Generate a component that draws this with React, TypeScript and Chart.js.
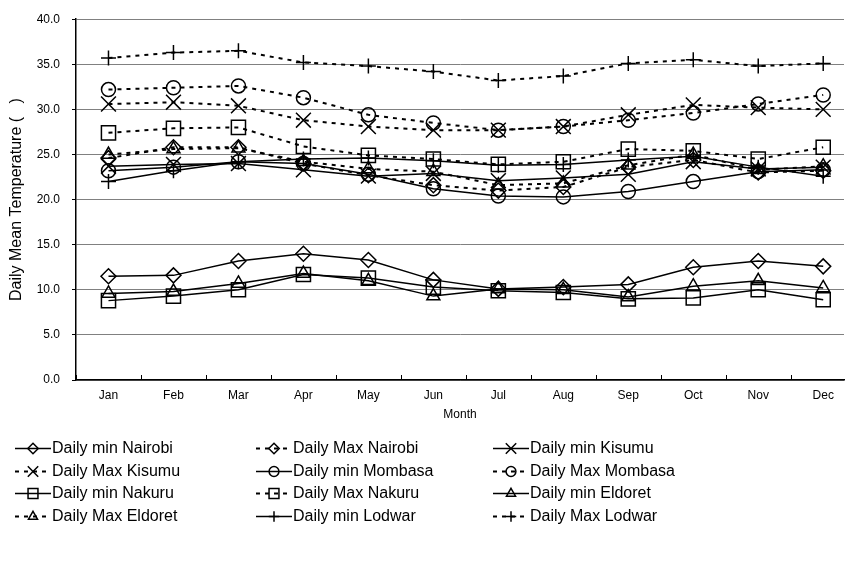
import React, { useEffect, useRef } from "react";
import { Chart, registerables } from "chart.js";
import { drawPoint } from "chart.js/helpers";

Chart.register(...registerables);

const months = ["Jan", "Feb", "Mar", "Apr", "May", "Jun", "Jul", "Aug", "Sep", "Oct", "Nov", "Dec"];
const yTickValues = [0, 5, 10, 15, 20, 25, 30, 35, 40];

const minNairobi = [11.5, 11.6, 13.2, 14.0, 13.3, 11.1, 10.1, 10.3, 10.6, 12.5, 13.2, 12.6];
const maxNairobi = [24.6, 25.8, 25.8, 24.0, 22.7, 21.6, 21.0, 21.4, 23.6, 24.4, 23.0, 23.2];
const minKisumu = [23.7, 23.9, 24.0, 23.3, 22.6, 22.9, 22.1, 22.4, 22.8, 24.2, 23.4, 23.6];
const maxKisumu = [30.6, 30.8, 30.4, 28.8, 28.1, 27.7, 27.7, 28.1, 29.4, 30.5, 30.2, 30.0];
const minMombasa = [23.2, 23.6, 24.2, 24.0, 22.8, 21.2, 20.4, 20.3, 20.9, 22.0, 23.1, 23.3];
const maxMombasa = [32.2, 32.4, 32.6, 31.3, 29.4, 28.5, 27.7, 28.1, 28.8, 29.6, 30.6, 31.6];
const minNakuru = [8.8, 9.3, 10.0, 11.7, 11.3, 10.3, 9.9, 9.7, 9.0, 9.1, 10.0, 8.9];
const maxNakuru = [27.4, 27.9, 28.0, 25.9, 24.9, 24.5, 23.9, 24.2, 25.6, 25.4, 24.5, 25.8];
const minEldoret = [9.6, 9.8, 10.7, 11.8, 11.0, 9.3, 10.1, 10.0, 9.2, 10.4, 11.0, 10.2];
const maxEldoret = [25.0, 25.6, 25.7, 24.2, 23.4, 23.1, 21.6, 21.8, 23.8, 25.0, 23.3, 23.7];
const minLodwar = [22.0, 23.2, 24.2, 24.5, 24.6, 24.3, 23.8, 23.9, 24.4, 24.8, 23.6, 22.6];
const maxLodwar = [35.7, 36.3, 36.5, 35.2, 34.8, 34.2, 33.2, 33.7, 35.1, 35.5, 34.8, 35.1];

const seriesNames = [
  "Daily min Nairobi", "Daily Max Nairobi", "Daily min Kisumu",
  "Daily Max Kisumu", "Daily min Mombasa", "Daily Max Mombasa",
  "Daily min Nakuru", "Daily Max Nakuru", "Daily min Eldoret",
  "Daily Max Eldoret", "Daily min Lodwar", "Daily Max Lodwar",
];
const seriesValues = [
  minNairobi, maxNairobi, minKisumu, maxKisumu, minMombasa, maxMombasa,
  minNakuru, maxNakuru, minEldoret, maxEldoret, minLodwar, maxLodwar,
];
const seriesMarkers = [
  "rectRot", "rectRot", "crossRot", "crossRot", "circle", "circle",
  "rect", "rect", "triangle", "triangle", "cross", "cross",
];
const markerRadius: Record<string, number> = {
  rectRot: 7.5, crossRot: 10.5, circle: 7, rect: 10, triangle: 7.5, cross: 7.5,
};

const FONT = '"Liberation Sans", Arial, sans-serif';

const extrasPlugin = {
  id: "extras",
  afterDraw(chart: any) {
    const ctx = chart.ctx;
    const xs = chart.scales.x;
    const area = chart.chartArea;
    ctx.save();
    ctx.strokeStyle = "#000";
    ctx.lineWidth = 1;
    for (let i = 0; i < months.length; i++) {
      const px = Math.round(xs.getPixelForValue(i + 0.5)) + 0.5;
      ctx.beginPath();
      ctx.moveTo(px, area.bottom);
      ctx.lineTo(px, area.bottom - 5);
      ctx.stroke();
    }
    ctx.fillStyle = "#000";
    ctx.font = "16px " + FONT;
    ctx.textAlign = "center";
    ctx.textBaseline = "middle";
    ctx.translate(17, (area.top + area.bottom) / 2);
    ctx.rotate(-Math.PI / 2);
    ctx.fillText("Daily Mean Temperature (   )", 0, 0);
    ctx.restore();

    const cols = [15, 256, 493];
    const rows = [448, 471, 493, 516];
    chart.data.datasets.forEach((ds: any, i: number) => {
      const x0 = cols[i % 3];
      const y = rows[Math.floor(i / 3)];
      ctx.save();
      ctx.strokeStyle = "#000";
      ctx.lineWidth = ds.borderWidth;
      ctx.setLineDash(ds.borderDash || []);
      ctx.beginPath();
      ctx.moveTo(x0, y + 0.5);
      ctx.lineTo(x0 + 36, y + 0.5);
      ctx.stroke();
      ctx.setLineDash([]);
      ctx.lineWidth = 1.5;
      ctx.fillStyle = "rgba(0,0,0,0)";
      drawPoint(ctx, {
        pointStyle: ds.pointStyle,
        radius: ds.pointRadius * 0.7,
        borderWidth: 1.5,
        rotation: 0,
      } as any, x0 + 18, y + 0.5);
      ctx.fillStyle = "#000";
      ctx.font = "16px " + FONT;
      ctx.textAlign = "left";
      ctx.textBaseline = "middle";
      ctx.fillText(ds.label, x0 + 37, y + 1);
      ctx.restore();
    });
  },
};

export default function App() {
  const ref = useRef<HTMLCanvasElement | null>(null);
  useEffect(() => {
    if (!ref.current) return;
    Chart.defaults.font.family = FONT;
    Chart.defaults.color = "#000";
    const datasets = seriesNames.map((name, i) => {
      const isMax = name.includes("Max");
      const style = seriesMarkers[i];
      return {
        label: name,
        data: seriesValues[i].map((v, j) => ({ x: j + 1, y: v })),
        borderColor: "#000",
        borderWidth: isMax ? 2 : 1.5,
        borderDash: isMax ? [4, 5] : [],
        pointStyle: style,
        pointRadius: markerRadius[style],
        pointHoverRadius: markerRadius[style],
        pointBorderColor: "#000",
        pointBackgroundColor: "rgba(0,0,0,0)",
        pointBorderWidth: 1.5,
        tension: 0,
        fill: false,
      };
    });
    const chart = new Chart(ref.current, {
      type: "line",
      data: { datasets } as any,
      options: {
        responsive: false,
        animation: false,
        layout: { padding: { top: 12, right: 6, bottom: 138, left: 0 } },
        plugins: { legend: { display: false }, tooltip: { enabled: false } },
        scales: {
          x: {
            type: "linear",
            min: 0.5,
            max: 12.32,
            afterBuildTicks: (s: any) => {
              s.ticks = months.map((_, i) => ({ value: i + 1 }));
            },
            afterFit: (s: any) => {
              s.height = 50;
            },
            ticks: {
              autoSkip: false,
              maxRotation: 0,
              padding: 8,
              font: { size: 12 },
              color: "#000",
              callback: (_v: any, i: number) => months[i],
            },
            grid: { display: false, drawTicks: false },
            border: { display: true, color: "#000", width: 1.5 },
            title: {
              display: true,
              text: "Month",
              font: { size: 12 },
              color: "#000",
              padding: { top: 0, bottom: 8 },
            },
          },
          y: {
            min: 0,
            max: 40,
            afterBuildTicks: (s: any) => {
              s.ticks = yTickValues.map((v) => ({ value: v }));
            },
            afterFit: (s: any) => {
              s.width = 76;
            },
            ticks: {
              padding: 12,
              font: { size: 12 },
              color: "#000",
              callback: (v: any) => Number(v).toFixed(1),
            },
            grid: { color: "#808080", lineWidth: 1, tickColor: "#000", tickLength: 4 },
            border: { display: true, color: "#000", width: 1.5 },
          },
        },
      } as any,
      plugins: [extrasPlugin],
    });
    return () => chart.destroy();
  }, []);
  return (
    <div style={{ position: "absolute", left: 0, top: 0, width: 856, height: 568, background: "#fff" }}>
      <canvas ref={ref} width={856} height={568} style={{ display: "block" }} />
    </div>
  );
}
